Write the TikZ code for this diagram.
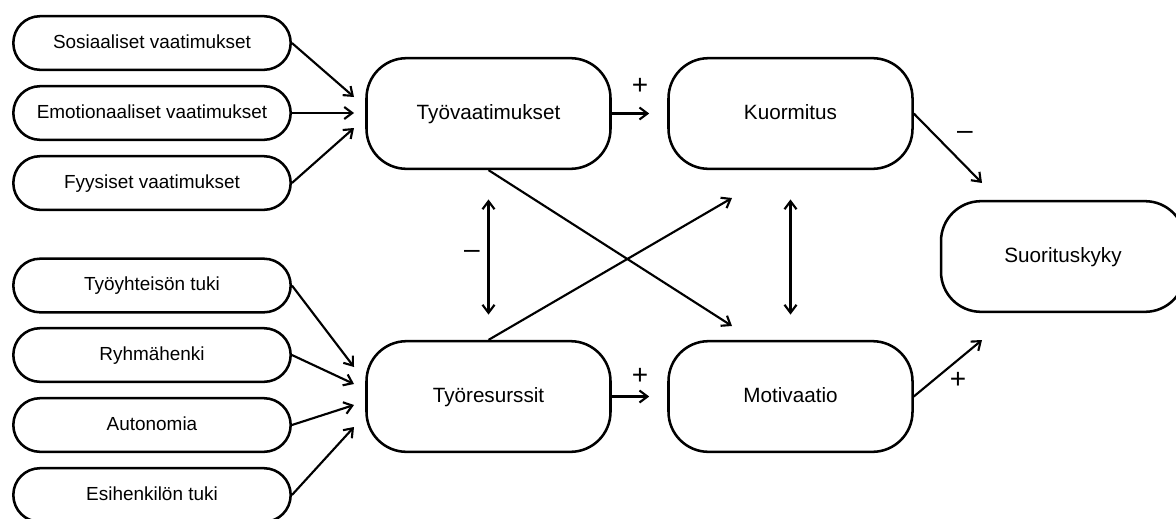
\documentclass[tikz,border=0pt]{standalone}
\usepackage{fontspec}
\setmainfont{Liberation Sans}
\usetikzlibrary{arrows.meta, positioning}
\tikzset{
>={Straight Barb[length=6pt, width=9pt]}, % open arrow heads
every node/.style={font=\fontsize{14.2}{17}\selectfont},
factor/.style={draw, line width=1.9pt, rounded corners=20pt, minimum width=208pt, minimum height=40.2pt, text height=1.75ex, text depth=.25ex},
construct/.style={factor, font=\fontsize{15.5}{18}\selectfont, text height=1.9ex, rounded corners=30pt, minimum width=183pt, minimum height=83pt},
link/.style={->, line width=1.6pt},
sign/.style={font=\fontsize{21}{21}\selectfont},
}

\begin{document}
\begin{tikzpicture}[x=0.75pt, y=-0.75pt]
    \useasboundingbox (0,0) rectangle (1176,518);
    % demands and resources
    \node[factor] (sosiaaliset) at (152,43) {Sosiaaliset vaatimukset};
    \node[factor] (emotionaaliset) at (152,113) {Emotionaaliset vaatimukset};
    \node[factor] (fyysiset) at (152,183) {Fyysiset vaatimukset};
    \node[factor] (tyoyhteiso) at (152,285.5) {Työyhteisön tuki};
    \node[factor] (ryhmahenki) at (152,355) {Ryhmähenki};
    \node[factor] (autonomia) at (152,425) {Autonomia};
    \node[factor] (esihenkilo) at (152,495) {Esihenkilön tuki};
    % main constructs
    \node[construct] (vaatimukset) at (488.5,113.5) {Työvaatimukset};
    \node[construct] (kuormitus) at (790.5,113.5) {Kuormitus};
    \node[construct] (resurssit) at (488.5,396.5) {Työresurssit};
    \node[construct] (motivaatio) at (790.5,396.5) {Motivaatio};
    \node[construct] (suorituskyky) at (1063,256.5) {Suorituskyky};
    % free arrow ends
    \coordinate (v1) at (354,97);
    \coordinate (v2) at (354,113);
    \coordinate (v3) at (354,128);
    \coordinate (r1) at (354,367);
    \coordinate (r2) at (354,384);
    \coordinate (r3) at (354,405);
    \coordinate (r4) at (354,427);
    \coordinate (km) at (732,326);
    \coordinate (rk) at (732,198);
    \coordinate (ks) at (982,183);
    \coordinate (ms) at (982,340);
    \draw
    (sosiaaliset.east) edge[link] (v1)
    (emotionaaliset.east) edge[link] (v2)
    (fyysiset.east) edge[link] (v3)
    (tyoyhteiso.east) edge[link] (r1)
    (ryhmahenki.east) edge[link] (r2)
    (autonomia.east) edge[link] (r3)
    (esihenkilo.east) edge[link] (r4)
    (vaatimukset.south) edge[link] (km)
    (resurssit.north) edge[link] (rk)
    (kuormitus.east) edge[link] (ks)
    (motivaatio.east) edge[link] (ms)
    (vaatimukset.east) edge[link, shorten >=13.5pt] (kuormitus.west)
    (resurssit.east) edge[link, shorten >=13.5pt] (motivaatio.west)
    (vaatimukset.south) edge[link, <->, shorten <=22pt, shorten >=19pt] (resurssit.north)
    (kuormitus.south) edge[link, <->, shorten <=22pt, shorten >=19pt] (motivaatio.north);
    % signs
    \node[sign] (p1) at (640,86) {+};
    \node[sign] (p2) at (640,376) {+};
    \node[sign] (m1) at (472,254) {–};
    \node[sign] (m2) at (965,135) {–};
    \node[sign] (p3) at (958,380) {+};
\end{tikzpicture}
\end{document}
